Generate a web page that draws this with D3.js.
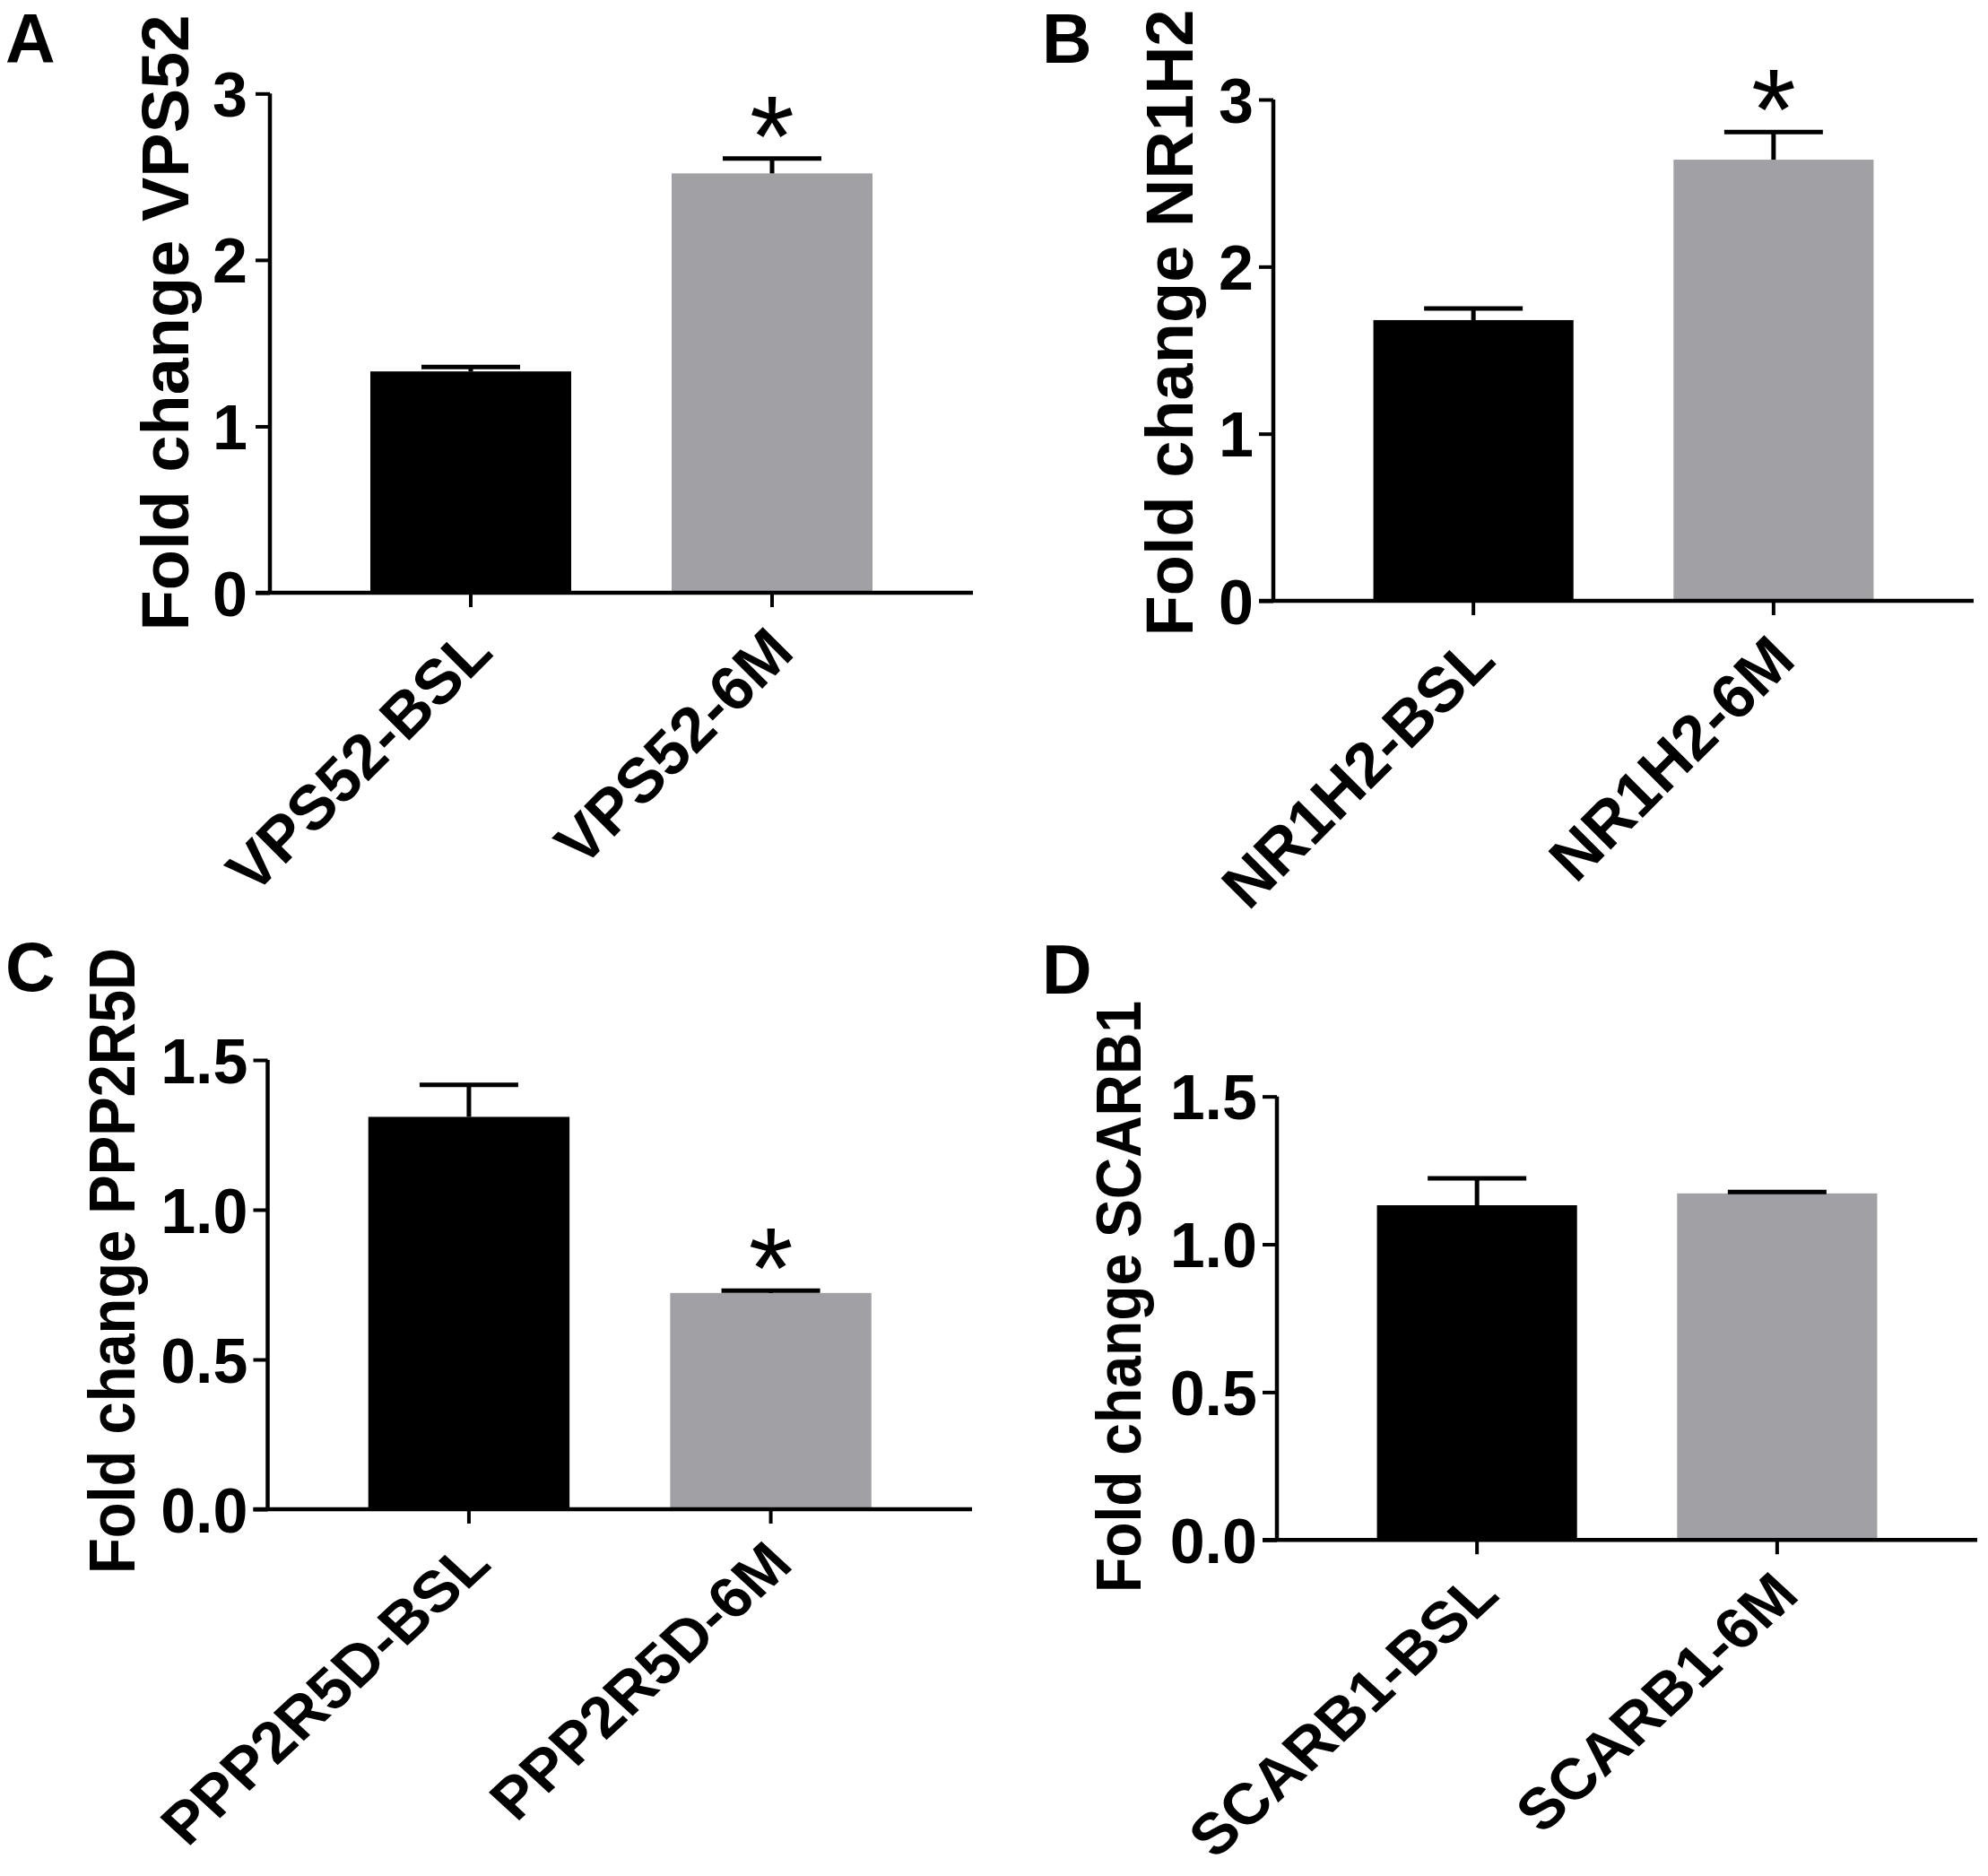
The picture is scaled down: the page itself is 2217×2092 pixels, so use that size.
<!DOCTYPE html>
<html><head><meta charset="utf-8">
<script src="https://cdn.jsdelivr.net/npm/d3@7"></script>
<style>
body{margin:0;background:#fff}
svg{display:block}
text{font-family:"Liberation Sans",Arial,Helvetica,sans-serif;font-weight:bold;fill:#000}
</style>
</head><body>
<svg id="chart" width="2217" height="2092"></svg>
<script>
// ---------------- data ----------------
const panelLetters = ["A", "B", "C", "D"];
const genes = ["VPS52", "NR1H2", "PPP2R5D", "SCARB1"];
const groups = ["BSL", "6M"];
const meansA = [1.33, 2.52],  semA = [0.026, 0.09];
const meansB = [1.68, 2.64],  semB = [0.07, 0.165];
const meansC = [1.31, 0.722], semC = [0.107, 0.008];
const meansD = [1.132, 1.172], semD = [0.091, 0.005];
const sigA = [false, true], sigB = [false, true], sigC = [false, true], sigD = [false, false];
const yTicksAB = [0, 1, 2, 3];
const yTicksCD = [0, 0.5, 1.0, 1.5];
const yMaxAB = 3, yMaxCD = 1.5;
const barColors = ["#000000", "#a1a0a5"];

// ---------------- layout (positions only) ----------------
const layouts = [
  {left:301,  right:1085, top:104.3,  bottom:661,    titleX:210,  titleY:360,  titleSize:74, titleLen:null, letterX:6,    letterY:70,   tickGap:9, lblDy:69, lblSy:1},
  {left:1420, right:2201, top:111,    bottom:670,    titleX:1330, titleY:360,  titleSize:74, titleLen:null, letterX:1162, letterY:70,   tickGap:6, lblDy:69, lblSy:1},
  {left:298.5,right:1084, top:1182,   bottom:1683,   titleX:150,  titleY:1406, titleSize:72, titleLen:698,  letterX:6,    letterY:1105, tickGap:6, lblDy:64, lblSy:0.92},
  {left:1424, right:2205, top:1222.7, bottom:1717.2, titleX:1272, titleY:1446, titleSize:70, titleLen:660,  letterX:1162, letterY:1108, tickGap:6, lblDy:64, lblSy:0.92}
];
const panels = [
  {means:meansA, sem:semA, sig:sigA, ticks:yTicksAB, ymax:yMaxAB, fmt:d3.format("d")},
  {means:meansB, sem:semB, sig:sigB, ticks:yTicksAB, ymax:yMaxAB, fmt:d3.format("d")},
  {means:meansC, sem:semC, sig:sigC, ticks:yTicksCD, ymax:yMaxCD, fmt:d3.format(".1f")},
  {means:meansD, sem:semD, sig:sigD, ticks:yTicksCD, ymax:yMaxCD, fmt:d3.format(".1f")}
];

const svg = d3.select("#chart");
const tickLen = 16, axisW = 4.5, labelSize = 70;

panels.forEach((p, i) => {
  const L = layouts[i];
  const g = svg.append("g");
  const cats = groups.map(s => genes[i] + "-" + s);
  const x = d3.scaleBand().domain(cats).range([L.left, L.right]).paddingInner(1/3).paddingOuter(1/3);
  const y = d3.scaleLinear().domain([0, p.ymax]).range([L.bottom, L.top]);

  // bars
  g.selectAll("rect.bar").data(cats).join("rect")
    .attr("x", d => x(d)).attr("width", x.bandwidth())
    .attr("y", (d, j) => y(p.means[j]))
    .attr("height", (d, j) => y(0) - y(p.means[j]))
    .attr("fill", (d, j) => barColors[j]);

  // error bars (upper only) and significance marks
  const capW = 110;
  cats.forEach((c, j) => {
    const cx = x(c) + x.bandwidth() / 2;
    const yt = y(p.means[j] + p.sem[j]);
    g.append("line").attr("x1", cx).attr("x2", cx)
      .attr("y1", y(p.means[j])).attr("y2", yt)
      .attr("stroke", "#000").attr("stroke-width", 5);
    g.append("line").attr("x1", cx - capW / 2).attr("x2", cx + capW / 2)
      .attr("y1", yt).attr("y2", yt)
      .attr("stroke", "#000").attr("stroke-width", 5);
    if (p.sig[j]) {
      g.append("text").text("*")
        .attr("x", cx).attr("y", yt + 19)
        .attr("text-anchor", "middle")
        .style("font-size", "128px").style("font-weight", "normal");
    }
  });

  // y axis
  const yAxis = d3.axisLeft(y).tickValues(p.ticks).tickFormat(p.fmt).tickSize(tickLen).tickPadding(L.tickGap);
  const ya = g.append("g").attr("transform", `translate(${L.left},0)`).call(yAxis);
  ya.select(".domain").attr("d", `M0,${L.top}V${L.bottom}`).attr("stroke-width", axisW).attr("stroke", "#000");
  ya.selectAll(".tick line").attr("stroke-width", 4).attr("stroke", "#000");
  ya.selectAll(".tick text").attr("dy", null).attr("y", labelSize * 0.358)
    .style("font-size", labelSize + "px").style("font-family", '"Liberation Sans",Arial,sans-serif').style("font-weight", "bold");
  ya.attr("font-size", null).attr("font-family", null);

  // x axis
  const xAxis = d3.axisBottom(x).tickSize(tickLen).tickSizeOuter(0);
  const xa = g.append("g").attr("transform", `translate(0,${L.bottom})`).call(xAxis);
  xa.select(".domain").attr("d", `M${L.left - tickLen},0H${L.right}`).attr("stroke-width", axisW).attr("stroke", "#000");
  xa.selectAll(".tick line").attr("stroke-width", 4).attr("stroke", "#000");
  xa.selectAll(".tick text")
    .attr("dy", null).attr("y", null)
    .attr("text-anchor", "end")
    .attr("transform", `translate(27,${L.lblDy}) scale(1,${L.lblSy}) rotate(-45)`)
    .style("font-size", labelSize + "px").style("font-family", '"Liberation Sans",Arial,sans-serif').style("font-weight", "bold");
  xa.attr("font-size", null).attr("font-family", null);

  // y title
  const t = g.append("text").text("Fold change " + genes[i])
    .attr("transform", `translate(${L.titleX},${L.titleY}) rotate(-90)`)
    .attr("text-anchor", "middle")
    .style("font-size", L.titleSize + "px");
  if (L.titleLen) t.attr("textLength", L.titleLen).attr("lengthAdjust", "spacingAndGlyphs");

  // panel letter
  g.append("text").text(panelLetters[i]).attr("x", L.letterX).attr("y", L.letterY).style("font-size", "77px");
});
</script>
</body></html>
